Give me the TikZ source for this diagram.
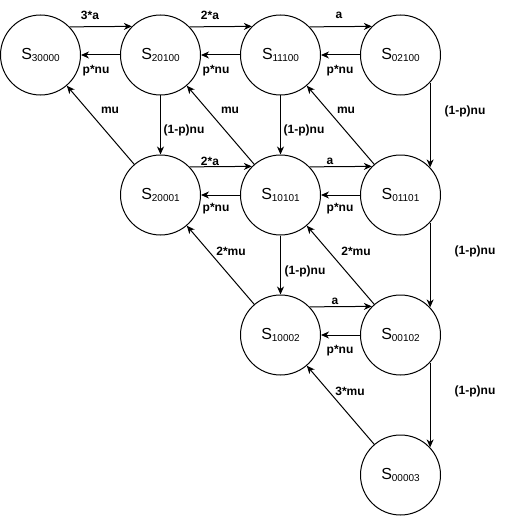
\documentclass[tikz,border=0pt]{standalone}
\usepackage{fontspec}
\setmainfont{Liberation Sans}
\usetikzlibrary{arrows.meta}
\newcommand\stsub[1]{\raisebox{-1.5pt}{\fontsize{10}{10}\selectfont #1}}
\begin{document}
\begin{tikzpicture}[x=1pt,y=-1pt,
 st/.style={circle,draw,line width=1pt,minimum size=80pt,inner sep=0pt,font=\fontsize{16}{16}\selectfont},
 arr/.style={line width=1pt,-{Stealth[length=8pt,width=7pt,inset=2.5pt]}},
 lbl/.style={font=\fontsize{12}{12}\selectfont\bfseries,inner sep=0pt}]
\useasboundingbox (0,0) rectangle (511,516);
% states
\node[st] (s30000) at (40.5,55) {S\stsub{30000}};
\node[st] (s20100) at (160.5,55) {S\stsub{20100}};
\node[st] (s11100) at (280.5,55) {S\stsub{11100}};
\node[st] (s02100) at (400.5,55) {S\stsub{02100}};
\node[st] (s20001) at (160.5,195) {S\stsub{20001}};
\node[st] (s10101) at (280.5,195) {S\stsub{10101}};
\node[st] (s01101) at (400.5,195) {S\stsub{01101}};
\node[st] (s10002) at (280.5,335) {S\stsub{10002}};
\node[st] (s00102) at (400.5,335) {S\stsub{00102}};
\node[st] (s00003) at (400.5,475) {S\stsub{00003}};
% rightward arrows (a)
\draw[arr] (s30000.44.4) -- (s20100.135.6);
\draw[arr] (s20100.44.4) -- (s11100.135.6);
\draw[arr] (s11100.44.4) -- (s02100.135.6);
\draw[arr] (s20001.44.4) -- (s10101.135.6);
\draw[arr] (s10101.44.4) -- (s01101.135.6);
\draw[arr] (s10002.44.4) -- (s00102.135.6);
% leftward arrows (p*nu)
\draw[arr] (s20100.west) -- (s30000.east);
\draw[arr] (s11100.west) -- (s20100.east);
\draw[arr] (s02100.west) -- (s11100.east);
\draw[arr] (s10101.west) -- (s20001.east);
\draw[arr] (s01101.west) -- (s10101.east);
\draw[arr] (s00102.west) -- (s10002.east);
% downward arrows ((1-p)nu)
\draw[arr] (s20100.south) -- (s20001.north);
\draw[arr] (s11100.south) -- (s10101.north);
\draw[arr] (s10101.south) -- (s10002.north);
\draw[arr] (s02100.-43.5) -- (s01101.43.5);
\draw[arr] (s01101.-43.5) -- (s00102.43.5);
\draw[arr] (s00102.-43.5) -- (s00003.43.5);
% diagonal arrows (mu)
\draw[arr] (s20001) -- (s30000);
\draw[arr] (s10101) -- (s20100);
\draw[arr] (s01101) -- (s11100);
\draw[arr] (s10002) -- (s20001);
\draw[arr] (s00102) -- (s10101);
\draw[arr] (s00003) -- (s10002);
% labels
\node[lbl] (l1) at (90,15) {3*a};
\node[lbl] (l2) at (210,15) {2*a};
\node[lbl] (l3) at (339,15) {a};
\node[lbl] (l4) at (96,71) {p*nu};
\node[lbl] (l5) at (216,71) {p*nu};
\node[lbl] (l6) at (340,71) {p*nu};
\node[lbl] (l7) at (110,110) {mu};
\node[lbl] (l8) at (230,110) {mu};
\node[lbl] (l9) at (346,110) {mu};
\node[lbl] (l10) at (184,130) {(1-p)nu};
\node[lbl] (l11) at (304,130) {(1-p)nu};
\node[lbl] (l12) at (465,111) {(1-p)nu};
\node[lbl] (l13) at (210,161) {2*a};
\node[lbl] (l14) at (330,161) {a};
\node[lbl] (l15) at (216,209) {p*nu};
\node[lbl] (l16) at (340,209) {p*nu};
\node[lbl] (l17) at (231,251) {2*mu};
\node[lbl] (l18) at (356,251) {2*mu};
\node[lbl] (l19) at (305,271) {(1-p)nu};
\node[lbl] (l20) at (475,251) {(1-p)nu};
\node[lbl] (l21) at (335,301) {a};
\node[lbl] (l22) at (340,351) {p*nu};
\node[lbl] (l23) at (350,391) {3*mu};
\node[lbl] (l24) at (475,391) {(1-p)nu};
\end{tikzpicture}
\end{document}
